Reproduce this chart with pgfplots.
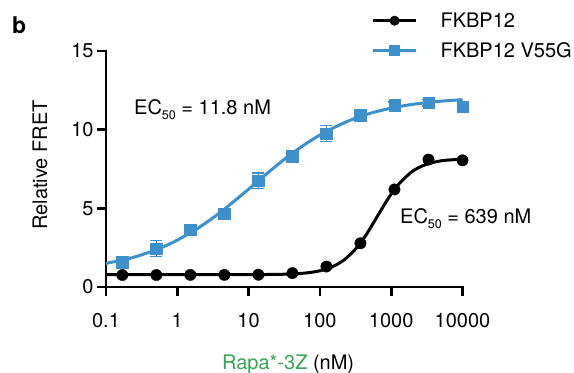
\documentclass[border=0pt]{standalone}
\usepackage{pgfplots}
\pgfplotsset{compat=1.18}
\usepackage{fontspec}
\setmainfont{TeX Gyre Heros}
\definecolor{fkblue}{RGB}{60,145,205}
\definecolor{fkgreen}{RGB}{52,168,83}
\begin{document}
\begin{tikzpicture}
\begin{axis}[
  at={(0,0)}, anchor=south west,
  scale only axis, width=356.5bp, height=236bp,
  xmode=log, xmin=0.1, xmax=10000, ymin=0, ymax=15,
  clip=false,
  axis x line*=bottom, axis y line*=left,
  axis line style={-, line width=2.6bp, line cap=rect},
  tick align=outside, major tick length=9bp,
  tick style={line width=2.6bp, black},
  xtick={0.1,1,10,100,1000,10000},
  xticklabels={0.1,1,10,100,1000,10000},
  xminorticks=false,
  ytick={0,5,10,15},
  font=\fontsize{20bp}{24bp}\selectfont,
  /pgf/number format/assume math mode=true,
  xticklabel style={yshift=-14bp},
  xlabel={\textcolor{fkgreen}{Rapa*-3Z} (nM)},
  ylabel={Relative FRET},
  every axis x label/.style={at={(axis description cs:0.511,-0.326)}, anchor=center},
  every axis y label/.style={at={(axis description cs:-0.185,0.517)}, rotate=90, anchor=center},
  legend style={at={(axis description cs:0.745,1.192)}, anchor=north west, draw=none, fill=none,
    inner sep=0pt, outer sep=0pt, row sep=0pt, font=\fontsize{20bp}{24bp}\selectfont,
    nodes={minimum height=30bp, inner sep=0pt},
    /tikz/every odd column/.append style={column sep=23bp}},
  legend cell align=left,
  legend image code/.code={\draw[mark repeat=2,mark phase=2,#1] plot coordinates {(0bp,0bp) (21.5bp,0bp) (43bp,0bp)};},
]
\addlegendimage{black, line width=3bp, mark=*, mark size=4.7bp, mark options={solid, line width=0.5bp}}
\addlegendentry{FKBP12}
\addlegendimage{fkblue, line width=3bp, mark=square*, mark size=5bp, mark options={solid, line width=0.5bp}}
\addlegendentry{FKBP12 V55G}

% fitted curves
\addplot[forget plot, fkblue, line width=3bp, smooth, no marks] coordinates {
(0.1,1.50) (0.2,1.79) (0.3,2.01) (0.5,2.36) (0.7,2.64) (1,2.98) (2,3.77) (4,4.74) (8,5.85)
(15,6.90) (30,8.03) (60,9.03) (120,9.86) (250,10.55) (500,11.03) (1000,11.37) (2000,11.61)
(5000,11.81) (10000,11.91)};
\addplot[forget plot, black, line width=3bp, smooth, no marks] coordinates {
(0.1,0.78) (1,0.78) (3,0.78) (10,0.785) (30,0.81) (60,0.88) (100,1.03) (150,1.29) (220,1.73)
(320,2.44) (450,3.35) (639,4.49) (900,5.6) (1300,6.58) (2000,7.36) (3000,7.77) (5000,8.02)
(10000,8.13)};

% data points
\addplot[forget plot, only marks, mark=square*, fkblue, mark size=5.8bp, mark options={solid, line width=0.3bp},
  error bars/.cd, y dir=both, y explicit,
  error bar style={line width=1.5bp, fkblue},
  error mark options={rotate=90, mark size=6bp, line width=1.5bp, fkblue}]
  table[x=x, y=y, y error=e] {
x y e
0.1694 1.59 0.15
0.5081 2.44 0.5
1.524 3.65 0.2
4.572 4.67 0.2
13.72 6.76 0.5
41.15 8.33 0.2
123.5 9.75 0.5
370.4 10.93 0.2
1111 11.55 0.2
3333 11.72 0.2
10000 11.46 0.2
};
\addplot[forget plot, only marks, mark=*, black, mark size=5.7bp, mark options={solid, line width=0.3bp}]
  table[x=x, y=y] {
x y
0.1694 0.76
0.5081 0.76
1.524 0.77
4.572 0.77
13.72 0.78
41.15 0.88
123.5 1.3
370.4 2.78
1111 6.2
3333 8.1
10000 8.05
};

\node[anchor=base west, inner sep=0pt] at (axis cs:0.247,10.98)
  {EC\raisebox{-5bp}{\fontsize{12.5bp}{14bp}\selectfont 50} = 11.8 nM};
\node[anchor=base west, inner sep=0pt] at (axis cs:1327,4.05)
  {EC\raisebox{-5bp}{\fontsize{12.5bp}{14bp}\selectfont 50} = 639 nM};
\node[anchor=base west, inner sep=0pt, font=\fontsize{23bp}{27bp}\selectfont\bfseries] at (axis description cs:-0.264,1.076) {b};
\end{axis}
\pgfresetboundingbox
\path[use as bounding box] (-106bp,-86bp) rectangle (468bp,287bp);
\end{tikzpicture}
\end{document}
